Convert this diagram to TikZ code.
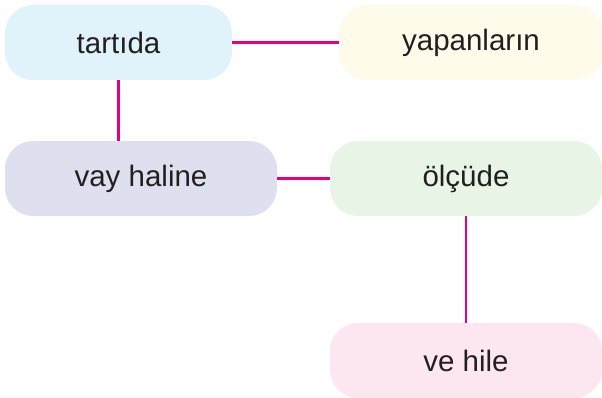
\documentclass[tikz,border=0pt]{standalone}
\usepackage{fontspec}
\setmainfont{Liberation Sans}
\definecolor{linkc}{HTML}{E6007E}
\definecolor{cA}{HTML}{E0F3FB}
\definecolor{cB}{HTML}{FEFBEA}
\definecolor{cC}{HTML}{DFE0EF}
\definecolor{cD}{HTML}{E8F4E5}
\definecolor{cE}{HTML}{FCE7F0}
\definecolor{txt}{HTML}{231F20}
\tikzset{
  box/.style={rectangle, rounded corners=28pt, inner sep=0pt, minimum height=75pt,
    text=txt, font=\fontsize{29.5}{32}\selectfont},
  link/.style={draw=linkc, line width=2.6pt}
}
\begin{document}
\begin{tikzpicture}[x=1pt,y=1pt]
\useasboundingbox (0,0) rectangle (602,397);
\node[box, fill=cA, minimum width=227pt] (a) at (118.5,354.5) {tartıda};
\node[box, fill=cB, minimum width=264pt] (b) at (471,354.5) {yapanların};
\node[box, fill=cC, minimum width=272pt] (c) at (141,218.5) {vay haline};
\node[box, fill=cD, minimum width=272pt] (d) at (466,218.5) {ölçüde};
\node[box, fill=cE, minimum width=272pt] (e) at (466,36.5) {ve hile};
\draw[link] (a.east) -- (b.west);
\draw[link] (a.south) -- (a.south |- c.north);
\draw[link] (c.east) -- (d.west);
\draw[link] (d.south) -- (e.north);
\end{tikzpicture}
\end{document}
